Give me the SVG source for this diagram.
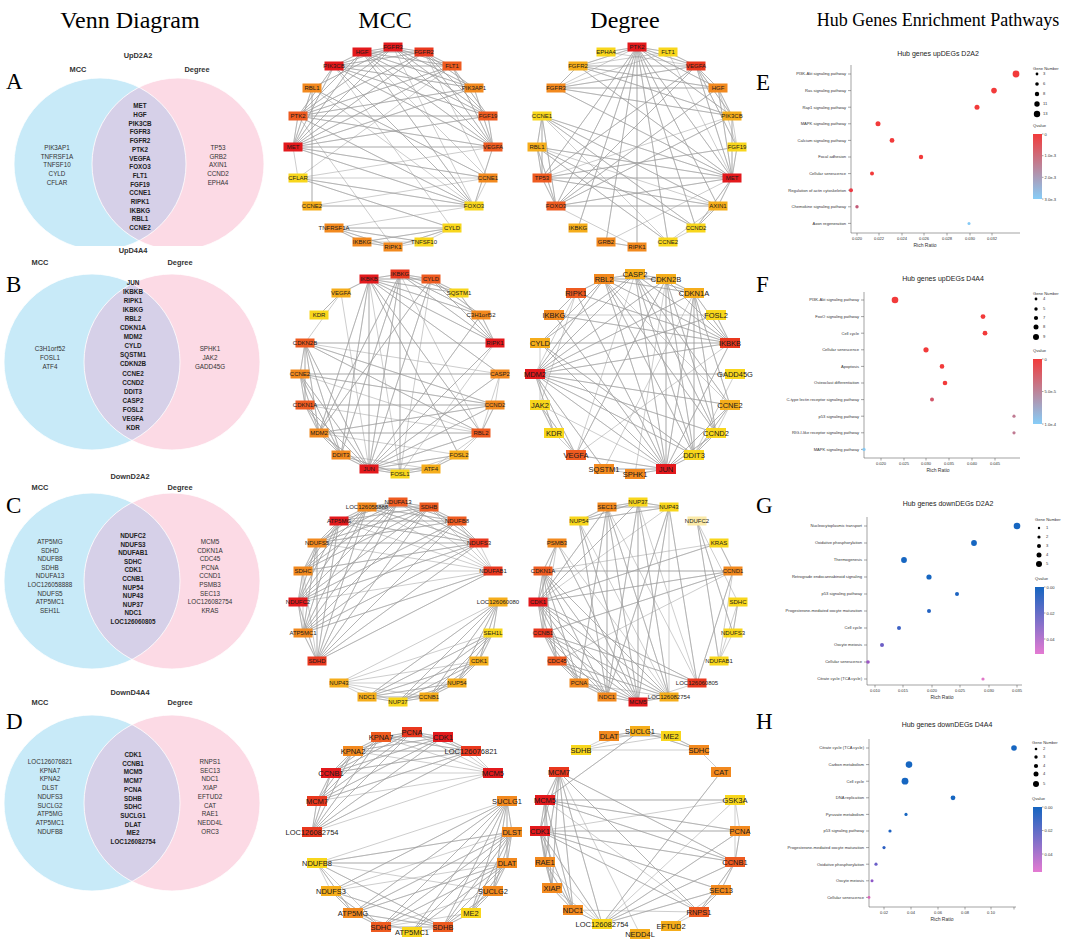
<svg xmlns="http://www.w3.org/2000/svg" width="1065" height="942" viewBox="0 0 1065 942">
<style>
.ttl{font-family:"Liberation Serif",serif;font-size:24px;fill:#000;text-anchor:middle}
.ttl2{font-family:"Liberation Serif",serif;font-size:18px;fill:#000;text-anchor:middle}
.lt{font-family:"Liberation Serif",serif;font-size:23px;fill:#000}
.vt{font-family:"Liberation Sans",Arial,sans-serif;font-size:6.3px;fill:#333;text-anchor:middle}
.vb{font-weight:bold;fill:#222}
.vh{font-family:"Liberation Sans",Arial,sans-serif;font-size:7.4px;font-weight:bold;fill:#333;text-anchor:middle}
.vl{fill:#c8eaf8}.vr{fill:#fcdae5}.vo{fill:#d6d0e8}.vs{fill:none;stroke:#fff;stroke-width:0.8}
.edges path{fill:none;stroke:#9a9a9a;stroke-width:0.5;stroke-linejoin:round}
.n text{font-family:"Liberation Sans",Arial,sans-serif;font-size:6px;fill:#1a1a1a;text-anchor:middle}
.nb text{font-size:7.5px}
.c1 rect{fill:#e3191c}.c2 rect{fill:#e9381e}.c3 rect{fill:#ee5b20}.c4 rect{fill:#f2891e}.c5 rect{fill:#f5ad1b}.c6 rect{fill:#f8d61c}
.pt{font-family:"Liberation Sans",Arial,sans-serif;font-size:7px;fill:#222;text-anchor:middle}
.pl{font-family:"Liberation Sans",Arial,sans-serif;font-size:4.1px;fill:#333;text-anchor:end}
.px{font-family:"Liberation Sans",Arial,sans-serif;font-size:4.1px;fill:#333;text-anchor:middle}
.pr{font-family:"Liberation Sans",Arial,sans-serif;font-size:5px;fill:#333;text-anchor:middle}
.pg{font-family:"Liberation Sans",Arial,sans-serif;font-size:4.1px;fill:#333}
.ax{fill:none;stroke:#666;stroke-width:0.6}
.rd{fill:#f23a3a}.bl{fill:#1666c1}
</style>
<defs>
<linearGradient id="gRB" x1="0" y1="0" x2="0" y2="1"><stop offset="0" stop-color="#f23b3b"/><stop offset="1" stop-color="#86cdf8"/></linearGradient>
<linearGradient id="gBP" x1="0" y1="0" x2="0" y2="1"><stop offset="0" stop-color="#1565c0"/><stop offset="1" stop-color="#e47ad2"/></linearGradient>
<clipPath id="cA"><rect x="0" y="60" width="265" height="186"/></clipPath>
<clipPath id="lA"><circle cx="100" cy="164" r="86"/></clipPath>
<clipPath id="lB"><circle cx="92" cy="362" r="88"/></clipPath>
<clipPath id="lC"><circle cx="92" cy="581" r="88"/></clipPath>
<clipPath id="lD"><circle cx="92" cy="803" r="88"/></clipPath>
</defs>
<rect width="1065" height="942" fill="#fff"/>

<g id="headings">
<text class="ttl" x="130" y="28">Venn Diagram</text>
<text class="ttl" x="385" y="28">MCC</text>
<text class="ttl" x="625" y="28">Degree</text>
<text class="ttl2" x="938" y="26">Hub Genes Enrichment Pathways</text>
<text class="lt" x="6" y="89">A</text>
<text class="lt" x="6" y="292">B</text>
<text class="lt" x="6" y="513">C</text>
<text class="lt" x="6" y="729">D</text>
<text class="lt" x="756" y="90">E</text>
<text class="lt" x="756" y="292">F</text>
<text class="lt" x="756" y="513">G</text>
<text class="lt" x="756" y="729">H</text>
</g>

<!-- Venn diagrams -->
<g id="vennA">
<g clip-path="url(#cA)">
<circle class="vl" cx="100" cy="164" r="86"/><circle class="vr" cx="178" cy="164" r="86"/>
<circle class="vo" cx="178" cy="164" r="86" clip-path="url(#lA)"/>
<circle class="vs" cx="100" cy="164" r="86"/><circle class="vs" cx="178" cy="164" r="86"/>
</g>
<text class="vh" x="138" y="58">UpD2A2</text>
<text class="vh" x="78" y="72">MCC</text>
<text class="vh" x="197" y="72">Degree</text>
<text class="vt" y="150"><tspan x="57">PIK3AP1</tspan><tspan x="57" dy="8.7">TNFRSF1A</tspan><tspan x="57" dy="8.7">TNFSF10</tspan><tspan x="57" dy="8.7">CYLD</tspan><tspan x="57" dy="8.7">CFLAR</tspan></text>
<text class="vt vb" y="108.3"><tspan x="140">MET</tspan><tspan x="140" dy="8.7">HGF</tspan><tspan x="140" dy="8.7">PIK3CB</tspan><tspan x="140" dy="8.7">FGFR3</tspan><tspan x="140" dy="8.7">FGFR2</tspan><tspan x="140" dy="8.7">PTK2</tspan><tspan x="140" dy="8.7">VEGFA</tspan><tspan x="140" dy="8.7">FOXO3</tspan><tspan x="140" dy="8.7">FLT1</tspan><tspan x="140" dy="8.7">FGF19</tspan><tspan x="140" dy="8.7">CCNE1</tspan><tspan x="140" dy="8.7">RIPK1</tspan><tspan x="140" dy="8.7">IKBKG</tspan><tspan x="140" dy="8.7">RBL1</tspan><tspan x="140" dy="8.7">CCNE2</tspan></text>
<text class="vt" y="150"><tspan x="218">TP53</tspan><tspan x="218" dy="8.7">GRB2</tspan><tspan x="218" dy="8.7">AXIN1</tspan><tspan x="218" dy="8.7">CCND2</tspan><tspan x="218" dy="8.7">EPHA4</tspan></text>
</g>

<g id="vennB">
<circle class="vl" cx="92" cy="362" r="88"/><circle class="vr" cx="172" cy="362" r="88"/>
<circle class="vo" cx="172" cy="362" r="88" clip-path="url(#lB)"/>
<circle class="vs" cx="92" cy="362" r="88"/><circle class="vs" cx="172" cy="362" r="88"/>
<text class="vh" x="133" y="253">UpD4A4</text>
<text class="vh" x="40" y="265">MCC</text>
<text class="vh" x="180" y="265">Degree</text>
<text class="vt" y="351"><tspan x="50">C3H1orf52</tspan><tspan x="50" dy="9">FOSL1</tspan><tspan x="50" dy="9">ATF4</tspan></text>
<text class="vt vb" y="285"><tspan x="133">JUN</tspan><tspan x="133" dy="9.05">IKBKB</tspan><tspan x="133" dy="9.05">RIPK1</tspan><tspan x="133" dy="9.05">IKBKG</tspan><tspan x="133" dy="9.05">RBL2</tspan><tspan x="133" dy="9.05">CDKN1A</tspan><tspan x="133" dy="9.05">MDM2</tspan><tspan x="133" dy="9.05">CYLD</tspan><tspan x="133" dy="9.05">SQSTM1</tspan><tspan x="133" dy="9.05">CDKN2B</tspan><tspan x="133" dy="9.05">CCNE2</tspan><tspan x="133" dy="9.05">CCND2</tspan><tspan x="133" dy="9.05">DDIT3</tspan><tspan x="133" dy="9.05">CASP2</tspan><tspan x="133" dy="9.05">FOSL2</tspan><tspan x="133" dy="9.05">VEGFA</tspan><tspan x="133" dy="9.05">KDR</tspan></text>
<text class="vt" y="351"><tspan x="210">SPHK1</tspan><tspan x="210" dy="9">JAK2</tspan><tspan x="210" dy="9">GADD45G</tspan></text>
</g>

<g id="vennC">
<circle class="vl" cx="92" cy="581" r="88"/><circle class="vr" cx="172" cy="581" r="88"/>
<circle class="vo" cx="172" cy="581" r="88" clip-path="url(#lC)"/>
<circle class="vs" cx="92" cy="581" r="88"/><circle class="vs" cx="172" cy="581" r="88"/>
<text class="vh" x="130" y="479">DownD2A2</text>
<text class="vh" x="40" y="490">MCC</text>
<text class="vh" x="180" y="490">Degree</text>
<text class="vt" y="544"><tspan x="50">ATP5MG</tspan><tspan x="50" dy="8.6">SDHD</tspan><tspan x="50" dy="8.6">NDUFB8</tspan><tspan x="50" dy="8.6">SDHB</tspan><tspan x="50" dy="8.6">NDUFA13</tspan><tspan x="50" dy="8.6">LOC126058888</tspan><tspan x="50" dy="8.6">NDUFS5</tspan><tspan x="50" dy="8.6">ATP5MC1</tspan><tspan x="50" dy="8.6">SEH1L</tspan></text>
<text class="vt vb" y="538"><tspan x="133">NDUFC2</tspan><tspan x="133" dy="8.6">NDUFS3</tspan><tspan x="133" dy="8.6">NDUFAB1</tspan><tspan x="133" dy="8.6">SDHC</tspan><tspan x="133" dy="8.6">CDK1</tspan><tspan x="133" dy="8.6">CCNB1</tspan><tspan x="133" dy="8.6">NUP54</tspan><tspan x="133" dy="8.6">NUP43</tspan><tspan x="133" dy="8.6">NUP37</tspan><tspan x="133" dy="8.6">NDC1</tspan><tspan x="133" dy="8.6">LOC126060805</tspan></text>
<text class="vt" y="544"><tspan x="210">MCM5</tspan><tspan x="210" dy="8.6">CDKN1A</tspan><tspan x="210" dy="8.6">CDC45</tspan><tspan x="210" dy="8.6">PCNA</tspan><tspan x="210" dy="8.6">CCND1</tspan><tspan x="210" dy="8.6">PSMB3</tspan><tspan x="210" dy="8.6">SEC13</tspan><tspan x="210" dy="8.6">LOC126082754</tspan><tspan x="210" dy="8.6">KRAS</tspan></text>
</g>

<g id="vennD">
<circle class="vl" cx="92" cy="803" r="88"/><circle class="vr" cx="172" cy="803" r="88"/>
<circle class="vo" cx="172" cy="803" r="88" clip-path="url(#lD)"/>
<circle class="vs" cx="92" cy="803" r="88"/><circle class="vs" cx="172" cy="803" r="88"/>
<text class="vh" x="130" y="695">DownD4A4</text>
<text class="vh" x="40" y="705">MCC</text>
<text class="vh" x="180" y="705">Degree</text>
<text class="vt" y="764"><tspan x="50">LOC126076821</tspan><tspan x="50" dy="8.7">KPNA7</tspan><tspan x="50" dy="8.7">KPNA2</tspan><tspan x="50" dy="8.7">DLST</tspan><tspan x="50" dy="8.7">NDUFS3</tspan><tspan x="50" dy="8.7">SUCLG2</tspan><tspan x="50" dy="8.7">ATP5MG</tspan><tspan x="50" dy="8.7">ATP5MC1</tspan><tspan x="50" dy="8.7">NDUFB8</tspan></text>
<text class="vt vb" y="757"><tspan x="133">CDK1</tspan><tspan x="133" dy="8.7">CCNB1</tspan><tspan x="133" dy="8.7">MCM5</tspan><tspan x="133" dy="8.7">MCM7</tspan><tspan x="133" dy="8.7">PCNA</tspan><tspan x="133" dy="8.7">SDHB</tspan><tspan x="133" dy="8.7">SDHC</tspan><tspan x="133" dy="8.7">SUCLG1</tspan><tspan x="133" dy="8.7">DLAT</tspan><tspan x="133" dy="8.7">ME2</tspan><tspan x="133" dy="8.7">LOC126082754</tspan></text>
<text class="vt" y="764"><tspan x="210">RNPS1</tspan><tspan x="210" dy="8.7">SEC13</tspan><tspan x="210" dy="8.7">NDC1</tspan><tspan x="210" dy="8.7">XIAP</tspan><tspan x="210" dy="8.7">EFTUD2</tspan><tspan x="210" dy="8.7">CAT</tspan><tspan x="210" dy="8.7">RAE1</tspan><tspan x="210" dy="8.7">NEDD4L</tspan><tspan x="210" dy="8.7">ORC3</tspan></text>
</g>

<!-- Connectors -->
<g id="connectors" class="edges">
<g id="edges-mccA" transform="translate(393 147)"><path d="M-100 0 100 0 -100 0 95 -31 -100 0 81 -59 -100 0 59 -81 -100 0 31 -95 -100 0 0 -100 -100 0 -31 -95 -100 0 -59 -81 -100 0 -95 -31 -100 0 -81 -59 -100 0 81 59 -100 0 95 31 -100 0 -95 31M-31 -95 100 0 -31 -95 95 -31 -31 -95 81 -59 -31 -95 59 -81 -31 -95 31 -95 -31 -95 0 -100 -31 -95 -59 -81 -31 -95 -95 -31 -31 -95 81 59 -31 -95 95 31M-59 -81 100 0 -59 -81 95 -31 -59 -81 81 -59 -59 -81 59 -81 -59 -81 31 -95 -59 -81 0 -100 -59 -81 -95 -31 -59 -81 81 59 -59 -81 59 81M0 -100 100 0 0 -100 95 -31 0 -100 81 -59 0 -100 59 -81 0 -100 31 -95 0 -100 -95 -31 0 -100 -81 -59 0 -100 81 59M31 -95 100 0 31 -95 95 -31 31 -95 81 -59 31 -95 59 -81 31 -95 -95 -31 31 -95 95 31M59 -81 100 0 59 -81 95 -31 59 -81 -95 -31 59 -81 -95 31M100 0 95 -31 100 0 81 -59 100 0 -95 -31 100 0 81 59 100 0 -95 31M-95 -31 95 -31 -95 -31 81 -59 -95 -31 81 59 -95 -31 0 100M-81 -59 -81 59 -81 -59 95 31 -81 -59 81 59M-81 59 81 59 -81 59 95 31M-95 31 81 59 -95 31 59 81 -95 31 95 31M-59 81 59 81 -59 81 0 100 -59 81 -31 95 -59 81 31 95 -59 81 81 59M-31 95 59 81 -31 95 0 100 -31 95 31 95M0 100 59 81 0 100 31 95M59 81 31 95M81 59 95 31"/></g>
<g id="edges-degA" transform="translate(637 147)"><path d="M0 -100 -81 59 0 -100 -95 31 0 -100 -59 81 0 -100 59 81 0 -100 95 31 0 -100 81 59 0 -100 31 95 0 -100 0 100 0 -100 -31 95 0 -100 81 -59 0 -100 95 -31 0 -100 59 -81 0 -100 31 -95 0 -100 -59 -81 0 -100 -31 -95 0 -100 -81 -59M-95 31 95 31 -95 31 -95 -31 -95 31 -100 0 -95 31 -81 59 -95 31 81 59 -95 31 100 0 -95 31 59 -81 -95 31 95 -31M95 31 59 -81 95 31 81 -59 95 31 95 -31 95 31 100 0 95 31 81 59 95 31 59 81 95 31 -81 -59 95 31 -59 -81 95 31 -95 -31 95 31 -100 0 95 31 -81 59 95 31 31 -95M-95 -31 81 59 -95 -31 59 81 -95 -31 -100 0 -95 -31 -81 59 -95 -31 31 95M-100 0 31 95 -100 0 59 81 -100 0 -81 59 -100 0 81 59M59 -81 81 -59 59 -81 95 -31 59 -81 100 0 59 -81 31 -95 59 -81 -81 -59 59 -81 -59 -81 59 -81 -31 -95M-59 -81 81 -59 -59 -81 95 -31 -59 -81 -81 -59 -59 -81 31 -95M-81 -59 81 -59 -81 -59 95 -31 -81 -59 31 -95M-81 59 81 59 -81 59 95 -31 -81 59 81 -59 -81 59 59 -81 -81 59 0 100M81 -59 95 -31 81 -59 100 0M95 -31 100 0M81 59 59 81 81 59 31 95M59 81 31 95M-31 95 0 100 -31 95 95 31"/></g>
<g id="edges-mccB" transform="translate(400 374)"><path d="M-31 -95 -31 95 -31 -95 -81 59 -31 -95 -59 81 -31 -95 95 -31 -31 -95 59 81 -31 -95 81 59 -31 -95 100 0 -31 -95 -59 -81 -31 -95 81 -59 -31 -95 59 -81 -31 -95 0 -100 -31 -95 31 -95 -31 -95 0 100M0 -100 95 -31 0 -100 81 -59 0 -100 59 -81 0 -100 31 -95 0 -100 -31 95 0 -100 0 100 0 -100 -59 81 0 -100 -81 59 0 -100 81 59M31 -95 95 -31 31 -95 81 -59 31 -95 59 -81 31 -95 -31 95 31 -95 -81 59 31 -95 0 100M95 -31 -95 -31 95 -31 -31 95 95 -31 81 -59 95 -31 59 -81 95 -31 0 100M-95 -31 -100 0 -95 -31 -95 31 -95 -31 -81 59 -95 -31 -59 81 -95 -31 -31 95 -95 -31 95 31 -95 -31 81 59 -95 -31 100 0M-100 0 -95 31 -100 0 -81 59 -100 0 -59 81 -100 0 -31 95 -100 0 95 31 -100 0 100 0 -100 0 81 59M-95 31 -81 59 -95 31 -59 81 -95 31 -31 95 -95 31 95 31 -95 31 81 59M-81 59 81 59 -81 59 -59 81 -81 59 -31 95 -81 59 95 31 -81 59 59 81M-59 81 -31 95 -59 81 0 100 -59 81 31 95M-31 95 0 100 -31 95 31 95 -31 95 59 81 -31 95 81 59 -31 95 95 31 -31 95 100 0 -31 95 81 -59 -31 95 -59 -81M0 100 31 95 0 100 59 81M31 95 59 81 31 95 81 59M59 81 81 59M81 59 95 31 81 59 100 0M95 31 100 0M-59 -81 -81 -59 -59 -81 -95 -31"/></g>
<g id="edges-degB" transform="translate(635 374)"><path d="M-100 0 95 -31 -100 0 100 0 -100 0 95 31 -100 0 81 59 -100 0 59 81 -100 0 31 95 -100 0 -31 -95 -100 0 0 -100 -100 0 31 -95 -100 0 59 -81 -100 0 81 -59 -100 0 -31 95 -100 0 -59 81 -100 0 -81 59 -100 0 -59 -81M-95 -31 95 -31 -95 -31 31 95 -95 -31 59 81 -95 -31 -31 -95 -95 -31 0 -100 -95 -31 -95 31M95 -31 0 -100 95 -31 31 -95 95 -31 59 -81 95 -31 -31 -95 95 -31 -59 -81 95 -31 -81 -59 95 -31 81 -59 95 -31 31 95 95 -31 -59 81M31 95 -31 -95 31 95 0 -100 31 95 31 -95 31 95 59 -81 31 95 95 31 31 95 81 59 31 95 59 81 31 95 -81 -59 31 95 -59 -81 31 95 -59 81 31 95 -31 95 31 95 0 100 31 95 -95 31M0 -100 -31 -95 0 -100 31 -95 0 -100 59 -81 0 -100 59 81 0 -100 81 59 0 -100 95 31 0 -100 -59 81M-31 -95 31 -95 -31 -95 59 -81 -31 -95 -59 -81 -31 -95 59 81 -31 -95 81 59 -31 -95 95 31M31 -95 59 -81 31 -95 59 81 31 -95 81 59 31 -95 -59 81 31 -95 0 100M59 -81 81 59 59 -81 95 31 59 -81 59 81 59 -81 -31 95M-81 -59 -59 -81 -81 -59 81 -59M-95 31 -81 59 -95 31 -59 81 -95 31 -59 -81M-81 59 -59 81M59 81 81 59 59 81 95 31 59 81 100 0M81 59 95 31M-31 95 0 100"/></g>
<g id="edges-mccC" transform="translate(398 602)"><path d="M-100 0 -81 59 -100 0 -95 31 -100 0 -95 -31 -100 0 -81 -59 -100 0 -59 -81 -100 0 -31 -95 -100 0 0 -100 -100 0 31 -95 -100 0 59 -81 -100 0 81 -59 -100 0 95 -31M-81 -59 -81 59 -81 -59 -95 31 -81 -59 -95 -31 -81 -59 -59 -81 -81 -59 -31 -95 -81 -59 0 -100 -81 -59 31 -95 -81 -59 59 -81 -81 -59 81 -59 -81 -59 95 -31M-59 -81 -81 59 -59 -81 -95 31 -59 -81 -95 -31 -59 -81 -31 -95 -59 -81 0 -100 -59 -81 31 -95 -59 -81 59 -81 -59 -81 81 -59 -59 -81 95 -31M-31 -95 -81 59 -31 -95 -95 31 -31 -95 -95 -31 -31 -95 0 -100 -31 -95 31 -95 -31 -95 59 -81 -31 -95 81 -59 -31 -95 95 -31M0 -100 -81 59 0 -100 -95 31 0 -100 -95 -31 0 -100 31 -95 0 -100 59 -81 0 -100 81 -59 0 -100 95 -31M31 -95 -81 59 31 -95 -95 31 31 -95 -95 -31 31 -95 59 -81 31 -95 81 -59 31 -95 95 -31M59 -81 -81 59 59 -81 -95 31 59 -81 81 -59 59 -81 95 -31M81 -59 -81 59 81 -59 -95 31 81 -59 -95 -31 81 -59 95 -31M95 -31 -81 59 95 -31 -95 31 95 -31 -95 -31M-81 59 -95 31 -81 59 -95 -31M-95 31 -95 -31M100 0 95 31 100 0 81 59 100 0 59 81 100 0 31 95 100 0 0 100 100 0 -31 95 100 0 -59 81M95 31 81 59 95 31 59 81 95 31 31 95 95 31 0 100 95 31 -31 95 95 31 -59 81M81 59 59 81 81 59 31 95 81 59 0 100 81 59 -31 95 81 59 -59 81M59 81 31 95 59 81 0 100 59 81 -31 95 59 81 -59 81M31 95 0 100 31 95 -31 95 31 95 -59 81M0 100 -31 95 0 100 -59 81M-31 95 -59 81"/></g>
<g id="edges-degC" transform="translate(638 602)"><path d="M-100 0 -95 -31 -100 0 -95 31 -100 0 -81 59 -100 0 -59 81 -100 0 -31 95 -100 0 0 100 -100 0 31 95 -100 0 59 81 -100 0 95 -31 -100 0 81 -59 -100 0 -81 -59 -100 0 -31 -95 -100 0 0 -100 -100 0 31 -95M-95 31 -95 -31 -95 31 -81 59 -95 31 -59 81 -95 31 -31 95 -95 31 0 100 -95 31 31 95 -95 31 59 81 -95 31 95 -31 -95 31 -81 -59M-95 -31 95 -31 -95 -31 -81 59 -95 -31 -59 81 -95 -31 -31 95 -95 -31 0 100 -95 -31 31 95 -95 -31 -81 -59 -95 -31 81 -59M-81 59 -59 81 -81 59 -31 95 -81 59 0 100 -81 59 31 95 -81 59 95 -31M-59 81 -31 95 -59 81 0 100 -59 81 31 95M0 100 -31 95 0 100 31 95 0 100 59 81M-31 -95 0 -100 -31 -95 31 -95 -31 -95 -59 -81 -31 -95 -31 95 -31 -95 0 100 -31 -95 31 95 -31 -95 -59 81 -31 -95 59 81M0 -100 31 -95 0 -100 -59 -81 0 -100 -31 95 0 -100 0 100 0 -100 31 95 0 -100 59 81M31 -95 -59 -81 31 -95 -31 95 31 -95 0 100 31 -95 59 81 31 -95 31 95M-59 -81 -31 95 -59 -81 0 100 -59 -81 31 95M59 -81 95 31 59 -81 81 59 59 -81 100 0M100 0 95 31 100 0 81 59M95 31 81 59M95 -31 81 -59 95 -31 59 81 95 -31 81 59M-81 -59 0 100 -81 -59 31 95"/></g>
<g id="edges-mccD" transform="translate(412 832)"><path d="M-100 0 -95 -31 -100 0 -81 -59 -100 0 -59 -81 -100 0 -31 -95 -100 0 0 -100 -100 0 31 -95 -100 0 59 -81 -100 0 81 -59M-95 -31 -81 -59 -95 -31 -59 -81 -95 -31 -31 -95 -95 -31 0 -100 -95 -31 31 -95 -95 -31 59 -81 -95 -31 81 -59M-81 -59 -59 -81 -81 -59 -31 -95 -81 -59 0 -100 -81 -59 31 -95 -81 -59 59 -81 -81 -59 81 -59M-59 -81 -31 -95 -59 -81 0 -100 -59 -81 31 -95 -59 -81 59 -81 -59 -81 81 -59M-31 -95 0 -100 -31 -95 31 -95 -31 -95 59 -81 -31 -95 81 -59M0 -100 31 -95 0 -100 59 -81 0 -100 81 -59M31 -95 59 -81 31 -95 81 -59M59 -81 81 -59M95 -31 100 0 95 -31 95 31 95 -31 81 59 95 -31 59 81 95 -31 31 95 95 -31 0 100 95 -31 -31 95 95 -31 -59 81 95 -31 -81 59 95 -31 -95 31M100 0 95 31 100 0 81 59 100 0 59 81 100 0 31 95 100 0 0 100 100 0 -31 95 100 0 -59 81 100 0 -81 59M95 31 81 59 95 31 59 81 95 31 31 95 95 31 0 100 95 31 -31 95 95 31 -59 81 95 31 -81 59M81 59 59 81 81 59 31 95 81 59 -31 95M31 95 -31 95 31 95 -59 81 31 95 -81 59 31 95 -95 31 31 95 59 81 31 95 0 100M-31 95 -59 81 -31 95 -81 59 -31 95 -95 31M-59 81 -81 59 -59 81 -95 31 -59 81 0 100M-81 59 -95 31M59 81 -31 95M-95 31 100 0 -95 31 95 31 -95 31 81 59"/></g>
<g id="edges-degD" transform="translate(640 831)"><path d="M-100 0 100 0 -100 0 95 31 -100 0 81 59 -100 0 59 81 -100 0 -95 -31 -100 0 -81 -59 -100 0 -95 31 -100 0 -88 57 -100 0 -67 79 -100 0 -38 93 -100 0 95 -31M-95 -31 -81 -59 -95 -31 -95 31 -95 -31 -88 57 -95 -31 -67 79 -95 -31 100 0 -95 -31 95 31 -95 -31 95 -31 -95 -31 59 81M-81 -59 -95 31 -81 -59 -88 57 -81 -59 -67 79 -81 -59 95 31 -81 -59 59 81 -81 -59 -38 93 -81 -59 0 103M-95 31 -88 57 -95 31 -67 79 -95 31 -38 93M-88 57 -67 79 -88 57 -38 93M-67 79 -38 93 -67 79 59 81M-38 93 100 0 -38 93 95 31 -38 93 81 59 -38 93 81 -59 -38 93 95 -31M59 81 95 31 59 81 81 59 59 81 31 95M95 31 100 0 95 31 81 59 95 31 95 -31M100 0 95 -31M0 -100 -95 -31 0 -100 -31 -95 0 -100 31 -95 0 -100 59 -81 0 -100 -59 -81M-31 -95 31 -95 -31 -95 -59 -81M31 -95 59 -81 31 -95 -59 -81M-59 -81 59 -81M59 -81 81 -59M81 59 31 95"/></g>
</g>

<!-- MCC A nodes -->
<g id="nodes-mccA" transform="translate(393 147)">
<g id="mccA-VEGFA" class="n c3" transform="translate(100 0)"><rect x="-9.5" y="-4.5" width="19" height="9"/><text y="2.1">VEGFA</text></g>
<g id="mccA-CCNE1" class="n c4" transform="translate(95 31)"><rect x="-9.5" y="-4.5" width="19" height="9"/><text y="2.1">CCNE1</text></g>
<g id="mccA-FOXO3" class="n c6" transform="translate(81 59)"><rect x="-9.5" y="-4.5" width="19" height="9"/><text y="2.1">FOXO3</text></g>
<g id="mccA-CYLD" class="n c6" transform="translate(59 81)"><rect x="-9.5" y="-4.5" width="19" height="9"/><text y="2.1">CYLD</text></g>
<g id="mccA-TNFSF10" class="n c6" transform="translate(31 95)"><rect x="-9.5" y="-4.5" width="19" height="9"/><text y="2.1">TNFSF10</text></g>
<g id="mccA-RIPK1" class="n c4" transform="translate(0 100)"><rect x="-9.5" y="-4.5" width="19" height="9"/><text y="2.1">RIPK1</text></g>
<g id="mccA-IKBKG" class="n c4" transform="translate(-31 95)"><rect x="-9.5" y="-4.5" width="19" height="9"/><text y="2.1">IKBKG</text></g>
<g id="mccA-TNFRSF1A" class="n c4" transform="translate(-59 81)"><rect x="-9.5" y="-4.5" width="19" height="9"/><text y="2.1">TNFRSF1A</text></g>
<g id="mccA-CCNE2" class="n c5" transform="translate(-81 59)"><rect x="-9.5" y="-4.5" width="19" height="9"/><text y="2.1">CCNE2</text></g>
<g id="mccA-CFLAR" class="n c6" transform="translate(-95 31)"><rect x="-9.5" y="-4.5" width="19" height="9"/><text y="2.1">CFLAR</text></g>
<g id="mccA-MET" class="n c1" transform="translate(-100 0)"><rect x="-9.5" y="-4.5" width="19" height="9"/><text y="2.1">MET</text></g>
<g id="mccA-PTK2" class="n c3" transform="translate(-95 -31)"><rect x="-9.5" y="-4.5" width="19" height="9"/><text y="2.1">PTK2</text></g>
<g id="mccA-RBL1" class="n c4" transform="translate(-81 -59)"><rect x="-9.5" y="-4.5" width="19" height="9"/><text y="2.1">RBL1</text></g>
<g id="mccA-PIK3CB" class="n c1" transform="translate(-59 -81)"><rect x="-9.5" y="-4.5" width="19" height="9"/><text y="2.1">PIK3CB</text></g>
<g id="mccA-HGF" class="n c1" transform="translate(-31 -95)"><rect x="-9.5" y="-4.5" width="19" height="9"/><text y="2.1">HGF</text></g>
<g id="mccA-FGFR3" class="n c1" transform="translate(0 -100)"><rect x="-9.5" y="-4.5" width="19" height="9"/><text y="2.1">FGFR3</text></g>
<g id="mccA-FGFR2" class="n c2" transform="translate(31 -95)"><rect x="-9.5" y="-4.5" width="19" height="9"/><text y="2.1">FGFR2</text></g>
<g id="mccA-FLT1" class="n c3" transform="translate(59 -81)"><rect x="-9.5" y="-4.5" width="19" height="9"/><text y="2.1">FLT1</text></g>
<g id="mccA-PIK3AP1" class="n c4" transform="translate(81 -59)"><rect x="-9.5" y="-4.5" width="19" height="9"/><text y="2.1">PIK3AP1</text></g>
<g id="mccA-FGF19" class="n c3" transform="translate(95 -31)"><rect x="-9.5" y="-4.5" width="19" height="9"/><text y="2.1">FGF19</text></g>
</g>

<!-- Degree A nodes -->
<g id="nodes-degA" transform="translate(637 147)">
<g id="degA-FGF19" class="n c6" transform="translate(100 0)"><rect x="-9.5" y="-4.5" width="19" height="9"/><text y="2.1">FGF19</text></g>
<g id="degA-MET" class="n c1" transform="translate(95 31)"><rect x="-9.5" y="-4.5" width="19" height="9"/><text y="2.1">MET</text></g>
<g id="degA-AXIN1" class="n c5" transform="translate(81 59)"><rect x="-9.5" y="-4.5" width="19" height="9"/><text y="2.1">AXIN1</text></g>
<g id="degA-CCND2" class="n c6" transform="translate(59 81)"><rect x="-9.5" y="-4.5" width="19" height="9"/><text y="2.1">CCND2</text></g>
<g id="degA-CCNE2" class="n c6" transform="translate(31 95)"><rect x="-9.5" y="-4.5" width="19" height="9"/><text y="2.1">CCNE2</text></g>
<g id="degA-RIPK1" class="n c4" transform="translate(0 100)"><rect x="-9.5" y="-4.5" width="19" height="9"/><text y="2.1">RIPK1</text></g>
<g id="degA-GRB2" class="n c4" transform="translate(-31 95)"><rect x="-9.5" y="-4.5" width="19" height="9"/><text y="2.1">GRB2</text></g>
<g id="degA-IKBKG" class="n c5" transform="translate(-59 81)"><rect x="-9.5" y="-4.5" width="19" height="9"/><text y="2.1">IKBKG</text></g>
<g id="degA-FOXO3" class="n c3" transform="translate(-81 59)"><rect x="-9.5" y="-4.5" width="19" height="9"/><text y="2.1">FOXO3</text></g>
<g id="degA-TP53" class="n c3" transform="translate(-95 31)"><rect x="-9.5" y="-4.5" width="19" height="9"/><text y="2.1">TP53</text></g>
<g id="degA-RBL1" class="n c5" transform="translate(-100 0)"><rect x="-9.5" y="-4.5" width="19" height="9"/><text y="2.1">RBL1</text></g>
<g id="degA-CCNE1" class="n c6" transform="translate(-95 -31)"><rect x="-9.5" y="-4.5" width="19" height="9"/><text y="2.1">CCNE1</text></g>
<g id="degA-FGFR3" class="n c4" transform="translate(-81 -59)"><rect x="-9.5" y="-4.5" width="19" height="9"/><text y="2.1">FGFR3</text></g>
<g id="degA-FGFR2" class="n c5" transform="translate(-59 -81)"><rect x="-9.5" y="-4.5" width="19" height="9"/><text y="2.1">FGFR2</text></g>
<g id="degA-EPHA4" class="n c6" transform="translate(-31 -95)"><rect x="-9.5" y="-4.5" width="19" height="9"/><text y="2.1">EPHA4</text></g>
<g id="degA-PTK2" class="n c1" transform="translate(0 -100)"><rect x="-9.5" y="-4.5" width="19" height="9"/><text y="2.1">PTK2</text></g>
<g id="degA-FLT1" class="n c6" transform="translate(31 -95)"><rect x="-9.5" y="-4.5" width="19" height="9"/><text y="2.1">FLT1</text></g>
<g id="degA-VEGFA" class="n c2" transform="translate(59 -81)"><rect x="-9.5" y="-4.5" width="19" height="9"/><text y="2.1">VEGFA</text></g>
<g id="degA-HGF" class="n c4" transform="translate(81 -59)"><rect x="-9.5" y="-4.5" width="19" height="9"/><text y="2.1">HGF</text></g>
<g id="degA-PIK3CB" class="n c5" transform="translate(95 -31)"><rect x="-9.5" y="-4.5" width="19" height="9"/><text y="2.1">PIK3CB</text></g>
</g>

<!-- MCC B nodes -->
<g id="nodes-mccB" transform="translate(400 374)">
<g id="mccB-CASP2" class="n c4" transform="translate(100 0)"><rect x="-9.5" y="-4.5" width="19" height="9"/><text y="2.1">CASP2</text></g>
<g id="mccB-CCND2" class="n c4" transform="translate(95 31)"><rect x="-9.5" y="-4.5" width="19" height="9"/><text y="2.1">CCND2</text></g>
<g id="mccB-RBL2" class="n c3" transform="translate(81 59)"><rect x="-9.5" y="-4.5" width="19" height="9"/><text y="2.1">RBL2</text></g>
<g id="mccB-FOSL2" class="n c5" transform="translate(59 81)"><rect x="-9.5" y="-4.5" width="19" height="9"/><text y="2.1">FOSL2</text></g>
<g id="mccB-ATF4" class="n c5" transform="translate(31 95)"><rect x="-9.5" y="-4.5" width="19" height="9"/><text y="2.1">ATF4</text></g>
<g id="mccB-FOSL1" class="n c6" transform="translate(0 100)"><rect x="-9.5" y="-4.5" width="19" height="9"/><text y="2.1">FOSL1</text></g>
<g id="mccB-JUN" class="n c1" transform="translate(-31 95)"><rect x="-9.5" y="-4.5" width="19" height="9"/><text y="2.1">JUN</text></g>
<g id="mccB-DDIT3" class="n c4" transform="translate(-59 81)"><rect x="-9.5" y="-4.5" width="19" height="9"/><text y="2.1">DDIT3</text></g>
<g id="mccB-MDM2" class="n c4" transform="translate(-81 59)"><rect x="-9.5" y="-4.5" width="19" height="9"/><text y="2.1">MDM2</text></g>
<g id="mccB-CDKN1A" class="n c3" transform="translate(-95 31)"><rect x="-9.5" y="-4.5" width="19" height="9"/><text y="2.1">CDKN1A</text></g>
<g id="mccB-CCNE2" class="n c4" transform="translate(-100 0)"><rect x="-9.5" y="-4.5" width="19" height="9"/><text y="2.1">CCNE2</text></g>
<g id="mccB-CDKN2B" class="n c3" transform="translate(-95 -31)"><rect x="-9.5" y="-4.5" width="19" height="9"/><text y="2.1">CDKN2B</text></g>
<g id="mccB-KDR" class="n c6" transform="translate(-81 -59)"><rect x="-9.5" y="-4.5" width="19" height="9"/><text y="2.1">KDR</text></g>
<g id="mccB-VEGFA" class="n c5" transform="translate(-59 -81)"><rect x="-9.5" y="-4.5" width="19" height="9"/><text y="2.1">VEGFA</text></g>
<g id="mccB-IKBKB" class="n c1" transform="translate(-31 -95)"><rect x="-9.5" y="-4.5" width="19" height="9"/><text y="2.1">IKBKB</text></g>
<g id="mccB-IKBKG" class="n c2" transform="translate(0 -100)"><rect x="-9.5" y="-4.5" width="19" height="9"/><text y="2.1">IKBKG</text></g>
<g id="mccB-CYLD" class="n c3" transform="translate(31 -95)"><rect x="-9.5" y="-4.5" width="19" height="9"/><text y="2.1">CYLD</text></g>
<g id="mccB-SQSTM1" class="n c6" transform="translate(59 -81)"><rect x="-9.5" y="-4.5" width="19" height="9"/><text y="2.1">SQSTM1</text></g>
<g id="mccB-C3H1orf52" class="n c4" transform="translate(81 -59)"><rect x="-9.5" y="-4.5" width="19" height="9"/><text y="2.1">C3H1orf52</text></g>
<g id="mccB-RIPK1" class="n c1" transform="translate(95 -31)"><rect x="-9.5" y="-4.5" width="19" height="9"/><text y="2.1">RIPK1</text></g>
</g>

<!-- Degree B nodes -->
<g id="nodes-degB" transform="translate(635 374)">
<g id="degB-GADD45G" class="n nb c6" transform="translate(100 0)"><rect x="-10" y="-5" width="20" height="10"/><text y="2.7">GADD45G</text></g>
<g id="degB-CCNE2" class="n nb c5" transform="translate(95 31)"><rect x="-10" y="-5" width="20" height="10"/><text y="2.7">CCNE2</text></g>
<g id="degB-CCND2" class="n nb c6" transform="translate(81 59)"><rect x="-10" y="-5" width="20" height="10"/><text y="2.7">CCND2</text></g>
<g id="degB-DDIT3" class="n nb c6" transform="translate(59 81)"><rect x="-10" y="-5" width="20" height="10"/><text y="2.7">DDIT3</text></g>
<g id="degB-JUN" class="n nb c1" transform="translate(31 95)"><rect x="-10" y="-5" width="20" height="10"/><text y="2.7">JUN</text></g>
<g id="degB-SPHK1" class="n nb c4" transform="translate(0 100)"><rect x="-10" y="-5" width="20" height="10"/><text y="2.7">SPHK1</text></g>
<g id="degB-SQSTM1" class="n nb c4" transform="translate(-31 95)"><rect x="-10" y="-5" width="20" height="10"/><text y="2.7">SQSTM1</text></g>
<g id="degB-VEGFA" class="n nb c3" transform="translate(-59 81)"><rect x="-10" y="-5" width="20" height="10"/><text y="2.7">VEGFA</text></g>
<g id="degB-KDR" class="n nb c6" transform="translate(-81 59)"><rect x="-10" y="-5" width="20" height="10"/><text y="2.7">KDR</text></g>
<g id="degB-JAK2" class="n nb c6" transform="translate(-95 31)"><rect x="-10" y="-5" width="20" height="10"/><text y="2.7">JAK2</text></g>
<g id="degB-MDM2" class="n nb c1" transform="translate(-100 0)"><rect x="-10" y="-5" width="20" height="10"/><text y="2.7">MDM2</text></g>
<g id="degB-CYLD" class="n nb c5" transform="translate(-95 -31)"><rect x="-10" y="-5" width="20" height="10"/><text y="2.7">CYLD</text></g>
<g id="degB-IKBKG" class="n nb c4" transform="translate(-81 -59)"><rect x="-10" y="-5" width="20" height="10"/><text y="2.7">IKBKG</text></g>
<g id="degB-RIPK1" class="n nb c3" transform="translate(-59 -81)"><rect x="-10" y="-5" width="20" height="10"/><text y="2.7">RIPK1</text></g>
<g id="degB-RBL2" class="n nb c4" transform="translate(-31 -95)"><rect x="-10" y="-5" width="20" height="10"/><text y="2.7">RBL2</text></g>
<g id="degB-CASP2" class="n nb c5" transform="translate(0 -100)"><rect x="-10" y="-5" width="20" height="10"/><text y="2.7">CASP2</text></g>
<g id="degB-CDKN2B" class="n nb c5" transform="translate(31 -95)"><rect x="-10" y="-5" width="20" height="10"/><text y="2.7">CDKN2B</text></g>
<g id="degB-CDKN1A" class="n nb c5" transform="translate(59 -81)"><rect x="-10" y="-5" width="20" height="10"/><text y="2.7">CDKN1A</text></g>
<g id="degB-FOSL2" class="n nb c6" transform="translate(81 -59)"><rect x="-10" y="-5" width="20" height="10"/><text y="2.7">FOSL2</text></g>
<g id="degB-IKBKB" class="n nb c2" transform="translate(95 -31)"><rect x="-10" y="-5" width="20" height="10"/><text y="2.7">IKBKB</text></g>
</g>

<!-- MCC C nodes -->
<g id="nodes-mccC" transform="translate(398 602)">
<g id="mccC-LOC126060080" class="n c5" transform="translate(100 0)"><rect x="-9.5" y="-4.5" width="19" height="9"/><text y="2.1">LOC126060080</text></g>
<g id="mccC-SEH1L" class="n c6" transform="translate(95 31)"><rect x="-9.5" y="-4.5" width="19" height="9"/><text y="2.1">SEH1L</text></g>
<g id="mccC-CDK1" class="n c5" transform="translate(81 59)"><rect x="-9.5" y="-4.5" width="19" height="9"/><text y="2.1">CDK1</text></g>
<g id="mccC-NUP54" class="n c5" transform="translate(59 81)"><rect x="-9.5" y="-4.5" width="19" height="9"/><text y="2.1">NUP54</text></g>
<g id="mccC-CCNB1" class="n c5" transform="translate(31 95)"><rect x="-9.5" y="-4.5" width="19" height="9"/><text y="2.1">CCNB1</text></g>
<g id="mccC-NUP37" class="n c6" transform="translate(0 100)"><rect x="-9.5" y="-4.5" width="19" height="9"/><text y="2.1">NUP37</text></g>
<g id="mccC-NDC1" class="n c5" transform="translate(-31 95)"><rect x="-9.5" y="-4.5" width="19" height="9"/><text y="2.1">NDC1</text></g>
<g id="mccC-NUP43" class="n c5" transform="translate(-59 81)"><rect x="-9.5" y="-4.5" width="19" height="9"/><text y="2.1">NUP43</text></g>
<g id="mccC-SDHD" class="n c2" transform="translate(-81 59)"><rect x="-9.5" y="-4.5" width="19" height="9"/><text y="2.1">SDHD</text></g>
<g id="mccC-ATP5MC1" class="n c4" transform="translate(-95 31)"><rect x="-9.5" y="-4.5" width="19" height="9"/><text y="2.1">ATP5MC1</text></g>
<g id="mccC-NDUFC2" class="n c1" transform="translate(-100 0)"><rect x="-9.5" y="-4.5" width="19" height="9"/><text y="2.1">NDUFC2</text></g>
<g id="mccC-SDHC" class="n c4" transform="translate(-95 -31)"><rect x="-9.5" y="-4.5" width="19" height="9"/><text y="2.1">SDHC</text></g>
<g id="mccC-NDUFS5" class="n c4" transform="translate(-81 -59)"><rect x="-9.5" y="-4.5" width="19" height="9"/><text y="2.1">NDUFS5</text></g>
<g id="mccC-ATP5MG" class="n c1" transform="translate(-59 -81)"><rect x="-9.5" y="-4.5" width="19" height="9"/><text y="2.1">ATP5MG</text></g>
<g id="mccC-LOC126058888" class="n c4" transform="translate(-31 -95)"><rect x="-9.5" y="-4.5" width="19" height="9"/><text y="2.1">LOC126058888</text></g>
<g id="mccC-NDUFA13" class="n c3" transform="translate(0 -100)"><rect x="-9.5" y="-4.5" width="19" height="9"/><text y="2.1">NDUFA13</text></g>
<g id="mccC-SDHB" class="n c3" transform="translate(31 -95)"><rect x="-9.5" y="-4.5" width="19" height="9"/><text y="2.1">SDHB</text></g>
<g id="mccC-NDUFB8" class="n c3" transform="translate(59 -81)"><rect x="-9.5" y="-4.5" width="19" height="9"/><text y="2.1">NDUFB8</text></g>
<g id="mccC-NDUFS3" class="n c2" transform="translate(81 -59)"><rect x="-9.5" y="-4.5" width="19" height="9"/><text y="2.1">NDUFS3</text></g>
<g id="mccC-NDUFAB1" class="n c2" transform="translate(95 -31)"><rect x="-9.5" y="-4.5" width="19" height="9"/><text y="2.1">NDUFAB1</text></g>
</g>

<!-- Degree C nodes -->
<g id="nodes-degC" transform="translate(638 602)">
<g id="degC-SDHC" class="n c6" transform="translate(100 0)"><rect x="-9.5" y="-4.5" width="19" height="9"/><text y="2.1">SDHC</text></g>
<g id="degC-NDUFS3" class="n c6" transform="translate(95 31)"><rect x="-9.5" y="-4.5" width="19" height="9"/><text y="2.1">NDUFS3</text></g>
<g id="degC-NDUFAB1" class="n c6" transform="translate(81 59)"><rect x="-9.5" y="-4.5" width="19" height="9"/><text y="2.1">NDUFAB1</text></g>
<g id="degC-LOC126060805" class="n c2" transform="translate(59 81)"><rect x="-9.5" y="-4.5" width="19" height="9"/><text y="2.1">LOC126060805</text></g>
<g id="degC-LOC126082754" class="n c5" transform="translate(31 95)"><rect x="-9.5" y="-4.5" width="19" height="9"/><text y="2.1">LOC126082754</text></g>
<g id="degC-MCM5" class="n c1" transform="translate(0 100)"><rect x="-9.5" y="-4.5" width="19" height="9"/><text y="2.1">MCM5</text></g>
<g id="degC-NDC1" class="n c4" transform="translate(-31 95)"><rect x="-9.5" y="-4.5" width="19" height="9"/><text y="2.1">NDC1</text></g>
<g id="degC-PCNA" class="n c4" transform="translate(-59 81)"><rect x="-9.5" y="-4.5" width="19" height="9"/><text y="2.1">PCNA</text></g>
<g id="degC-CDC45" class="n c3" transform="translate(-81 59)"><rect x="-9.5" y="-4.5" width="19" height="9"/><text y="2.1">CDC45</text></g>
<g id="degC-CCNB1" class="n c2" transform="translate(-95 31)"><rect x="-9.5" y="-4.5" width="19" height="9"/><text y="2.1">CCNB1</text></g>
<g id="degC-CDK1" class="n c1" transform="translate(-100 0)"><rect x="-9.5" y="-4.5" width="19" height="9"/><text y="2.1">CDK1</text></g>
<g id="degC-CDKN1A" class="n c3" transform="translate(-95 -31)"><rect x="-9.5" y="-4.5" width="19" height="9"/><text y="2.1">CDKN1A</text></g>
<g id="degC-PSMB3" class="n c4" transform="translate(-81 -59)"><rect x="-9.5" y="-4.5" width="19" height="9"/><text y="2.1">PSMB3</text></g>
<g id="degC-NUP54" class="n c6" transform="translate(-59 -81)"><rect x="-9.5" y="-4.5" width="19" height="9"/><text y="2.1">NUP54</text></g>
<g id="degC-SEC13" class="n c4" transform="translate(-31 -95)"><rect x="-9.5" y="-4.5" width="19" height="9"/><text y="2.1">SEC13</text></g>
<g id="degC-NUP37" class="n c6" transform="translate(0 -100)"><rect x="-9.5" y="-4.5" width="19" height="9"/><text y="2.1">NUP37</text></g>
<g id="degC-NUP43" class="n c6" transform="translate(31 -95)"><rect x="-9.5" y="-4.5" width="19" height="9"/><text y="2.1">NUP43</text></g>
<g id="degC-NDUFC2" class="n" transform="translate(59 -81)"><rect x="-9.5" y="-4.5" width="19" height="9" fill="#fbeaa8"/><text y="2.1">NDUFC2</text></g>
<g id="degC-KRAS" class="n c6" transform="translate(81 -59)"><rect x="-9.5" y="-4.5" width="19" height="9"/><text y="2.1">KRAS</text></g>
<g id="degC-CCND1" class="n c4" transform="translate(95 -31)"><rect x="-9.5" y="-4.5" width="19" height="9"/><text y="2.1">CCND1</text></g>
</g>

<!-- MCC D nodes -->
<g id="nodes-mccD" transform="translate(412 832)">
<g id="mccD-DLST" class="n nb c4" transform="translate(100 0)"><rect x="-10" y="-5" width="20" height="10"/><text y="2.7">DLST</text></g>
<g id="mccD-DLAT" class="n nb c4" transform="translate(95 31)"><rect x="-10" y="-5" width="20" height="10"/><text y="2.7">DLAT</text></g>
<g id="mccD-SUCLG2" class="n nb c4" transform="translate(81 59)"><rect x="-10" y="-5" width="20" height="10"/><text y="2.7">SUCLG2</text></g>
<g id="mccD-ME2" class="n nb c6" transform="translate(59 81)"><rect x="-10" y="-5" width="20" height="10"/><text y="2.7">ME2</text></g>
<g id="mccD-SDHB" class="n nb c3" transform="translate(31 95)"><rect x="-10" y="-5" width="20" height="10"/><text y="2.7">SDHB</text></g>
<g id="mccD-ATP5MC1" class="n nb c6" transform="translate(0 100)"><rect x="-10" y="-5" width="20" height="10"/><text y="2.7">ATP5MC1</text></g>
<g id="mccD-SDHC" class="n nb c3" transform="translate(-31 95)"><rect x="-10" y="-5" width="20" height="10"/><text y="2.7">SDHC</text></g>
<g id="mccD-ATP5MG" class="n nb c4" transform="translate(-59 81)"><rect x="-10" y="-5" width="20" height="10"/><text y="2.7">ATP5MG</text></g>
<g id="mccD-NDUFS3" class="n nb c5" transform="translate(-81 59)"><rect x="-10" y="-5" width="20" height="10"/><text y="2.7">NDUFS3</text></g>
<g id="mccD-NDUFB8" class="n nb c6" transform="translate(-95 31)"><rect x="-10" y="-5" width="20" height="10"/><text y="2.7">NDUFB8</text></g>
<g id="mccD-LOC126082754" class="n nb c2" transform="translate(-100 0)"><rect x="-10" y="-5" width="20" height="10"/><text y="2.7">LOC126082754</text></g>
<g id="mccD-MCM7" class="n nb c2" transform="translate(-95 -31)"><rect x="-10" y="-5" width="20" height="10"/><text y="2.7">MCM7</text></g>
<g id="mccD-CCNB1" class="n nb c1" transform="translate(-81 -59)"><rect x="-10" y="-5" width="20" height="10"/><text y="2.7">CCNB1</text></g>
<g id="mccD-KPNA2" class="n nb c4" transform="translate(-59 -81)"><rect x="-10" y="-5" width="20" height="10"/><text y="2.7">KPNA2</text></g>
<g id="mccD-KPNA7" class="n nb c3" transform="translate(-31 -95)"><rect x="-10" y="-5" width="20" height="10"/><text y="2.7">KPNA7</text></g>
<g id="mccD-PCNA" class="n nb c2" transform="translate(0 -100)"><rect x="-10" y="-5" width="20" height="10"/><text y="2.7">PCNA</text></g>
<g id="mccD-CDK1" class="n nb c1" transform="translate(31 -95)"><rect x="-10" y="-5" width="20" height="10"/><text y="2.7">CDK1</text></g>
<g id="mccD-LOC126076821" class="n nb c2" transform="translate(59 -81)"><rect x="-10" y="-5" width="20" height="10"/><text y="2.7">LOC126076821</text></g>
<g id="mccD-MCM5" class="n nb c1" transform="translate(81 -59)"><rect x="-10" y="-5" width="20" height="10"/><text y="2.7">MCM5</text></g>
<g id="mccD-SUCLG1" class="n nb c4" transform="translate(95 -31)"><rect x="-10" y="-5" width="20" height="10"/><text y="2.7">SUCLG1</text></g>
</g>

<!-- Degree D nodes -->
<g id="nodes-degD" transform="translate(640 831)">
<g id="degD-PCNA" class="n nb c4" transform="translate(100 0)"><rect x="-10" y="-5" width="20" height="10"/><text y="2.7">PCNA</text></g>
<g id="degD-CCNB1" class="n nb c3" transform="translate(95 31)"><rect x="-10" y="-5" width="20" height="10"/><text y="2.7">CCNB1</text></g>
<g id="degD-SEC13" class="n nb c4" transform="translate(81 59)"><rect x="-10" y="-5" width="20" height="10"/><text y="2.7">SEC13</text></g>
<g id="degD-RNPS1" class="n nb c3" transform="translate(59 81)"><rect x="-10" y="-5" width="20" height="10"/><text y="2.7">RNPS1</text></g>
<g id="degD-EFTUD2" class="n nb c5" transform="translate(31 95)"><rect x="-10" y="-5" width="20" height="10"/><text y="2.7">EFTUD2</text></g>
<g id="degD-NEDD4L" class="n nb c5" transform="translate(0 103)"><rect x="-10" y="-5" width="20" height="10"/><text y="2.7">NEDD4L</text></g>
<g id="degD-LOC126082754" class="n nb c6" transform="translate(-38 93)"><rect x="-10" y="-5" width="20" height="10"/><text y="2.7">LOC126082754</text></g>
<g id="degD-NDC1" class="n nb c4" transform="translate(-67 79)"><rect x="-10" y="-5" width="20" height="10"/><text y="2.7">NDC1</text></g>
<g id="degD-XIAP" class="n nb c4" transform="translate(-88 57)"><rect x="-10" y="-5" width="20" height="10"/><text y="2.7">XIAP</text></g>
<g id="degD-RAE1" class="n nb c4" transform="translate(-95 31)"><rect x="-10" y="-5" width="20" height="10"/><text y="2.7">RAE1</text></g>
<g id="degD-CDK1" class="n nb c1" transform="translate(-100 0)"><rect x="-10" y="-5" width="20" height="10"/><text y="2.7">CDK1</text></g>
<g id="degD-MCM5" class="n nb c1" transform="translate(-95 -31)"><rect x="-10" y="-5" width="20" height="10"/><text y="2.7">MCM5</text></g>
<g id="degD-MCM7" class="n nb c2" transform="translate(-81 -59)"><rect x="-10" y="-5" width="20" height="10"/><text y="2.7">MCM7</text></g>
<g id="degD-SDHB" class="n nb c6" transform="translate(-59 -81)"><rect x="-10" y="-5" width="20" height="10"/><text y="2.7">SDHB</text></g>
<g id="degD-DLAT" class="n nb c4" transform="translate(-31 -95)"><rect x="-10" y="-5" width="20" height="10"/><text y="2.7">DLAT</text></g>
<g id="degD-SUCLG1" class="n nb c5" transform="translate(0 -100)"><rect x="-10" y="-5" width="20" height="10"/><text y="2.7">SUCLG1</text></g>
<g id="degD-ME2" class="n nb c6" transform="translate(31 -95)"><rect x="-10" y="-5" width="20" height="10"/><text y="2.7">ME2</text></g>
<g id="degD-SDHC" class="n nb c4" transform="translate(59 -81)"><rect x="-10" y="-5" width="20" height="10"/><text y="2.7">SDHC</text></g>
<g id="degD-CAT" class="n nb c4" transform="translate(81 -59)"><rect x="-10" y="-5" width="20" height="10"/><text y="2.7">CAT</text></g>
<g id="degD-GSK3A" class="n nb c6" transform="translate(95 -31)"><rect x="-10" y="-5" width="20" height="10"/><text y="2.7">GSK3A</text></g>
</g>

<!-- Plot E -->
<g id="plotE">
<text class="pt" x="938" y="56">Hub genes upDEGs D2A2</text>
<path class="ax" d="M851 65V233H1020M848 74H851M848 90.6H851M848 107.2H851M848 123.8H851M848 140.4H851M848 157H851M848 173.6H851M848 190.2H851M848 206.8H851M848 223.4H851M857 233v2.5M879 233v2.5M902 233v2.5M924 233v2.5M947 233v2.5M970 233v2.5M992 233v2.5"/>
<text class="pl" x="846" y="75.4">PI3K-Akt signaling pathway</text>
<text class="pl" x="846" y="92">Ras signaling pathway</text>
<text class="pl" x="846" y="108.6">Rap1 signaling pathway</text>
<text class="pl" x="846" y="125.2">MAPK signaling pathway</text>
<text class="pl" x="846" y="141.8">Calcium signaling pathway</text>
<text class="pl" x="846" y="158.4">Focal adhesion</text>
<text class="pl" x="846" y="175">Cellular senescence</text>
<text class="pl" x="846" y="191.6">Regulation of actin cytoskeleton</text>
<text class="pl" x="846" y="208.2">Chemokine signaling pathway</text>
<text class="pl" x="846" y="224.8">Axon regeneration</text>
<text class="px" x="857" y="239.5">0.020</text><text class="px" x="879" y="239.5">0.022</text><text class="px" x="902" y="239.5">0.024</text><text class="px" x="924" y="239.5">0.026</text><text class="px" x="947" y="239.5">0.028</text><text class="px" x="970" y="239.5">0.030</text><text class="px" x="992" y="239.5">0.032</text>
<text class="pr" x="925" y="246.5">Rich Ratio</text>
<circle class="rd" cx="1016" cy="74" r="3.4"/>
<circle class="rd" cx="994" cy="90.6" r="2.8"/>
<circle class="rd" cx="977" cy="107.2" r="2.5"/>
<circle class="rd" cx="878" cy="123.8" r="2.5"/>
<circle class="rd" cx="892" cy="140.4" r="2.4"/>
<circle class="rd" cx="921" cy="157" r="2.2"/>
<circle class="rd" cx="872" cy="173.6" r="2"/>
<circle fill="#ec3a44" cx="851" cy="190.2" r="2"/>
<circle fill="#c25b78" cx="857" cy="206.8" r="1.7"/>
<circle fill="#84c9f5" cx="969" cy="223.4" r="1.5"/>
<text class="pg" x="1033" y="69.5">Gene Number</text>
<circle cx="1037" cy="74" r="1.4"/><circle cx="1037" cy="84" r="1.8"/><circle cx="1037" cy="94" r="2.2"/><circle cx="1037" cy="104" r="2.7"/><circle cx="1037" cy="114" r="3.2"/>
<text class="pg" x="1043" y="75.4">3</text><text class="pg" x="1043" y="85.4">6</text><text class="pg" x="1043" y="95.4">8</text><text class="pg" x="1043" y="105.4">11</text><text class="pg" x="1043" y="115.4">13</text>
<text class="pg" x="1033" y="126.5">Qvalue</text>
<rect x="1033" y="134" width="9" height="65" fill="url(#gRB)"/>
<path class="ax" d="M1042 134h1.5M1042 155.7h1.5M1042 177.3h1.5M1042 199h1.5"/>
<text class="pg" x="1044.5" y="135.5">0</text><text class="pg" x="1044.5" y="157.2">1.0e-3</text><text class="pg" x="1044.5" y="178.8">2.0e-3</text><text class="pg" x="1044.5" y="200.5">3.0e-3</text>
</g>

<!-- Plot F -->
<g id="plotF">
<text class="pt" x="943" y="281">Hub genes upDEGs D4A4</text>
<path class="ax" d="M864 292V458H1020M861 300H864M861 316.6H864M861 333.2H864M861 349.8H864M861 366.4H864M861 383H864M861 399.6H864M861 416.2H864M861 432.8H864M861 449.4H864M881 458v2.5M904 458v2.5M926 458v2.5M949 458v2.5M972 458v2.5M995 458v2.5"/>
<text class="pl" x="859" y="301.4">PI3K-Akt signaling pathway</text>
<text class="pl" x="859" y="318">FoxO signaling pathway</text>
<text class="pl" x="859" y="334.6">Cell cycle</text>
<text class="pl" x="859" y="351.2">Cellular senescence</text>
<text class="pl" x="859" y="367.8">Apoptosis</text>
<text class="pl" x="859" y="384.4">Osteoclast differentiation</text>
<text class="pl" x="859" y="401">C-type lectin receptor signaling pathway</text>
<text class="pl" x="859" y="417.6">p53 signaling pathway</text>
<text class="pl" x="859" y="434.2">RIG-I-like receptor signaling pathway</text>
<text class="pl" x="859" y="450.8">MAPK signaling pathway</text>
<text class="px" x="881" y="464.5">0.020</text><text class="px" x="904" y="464.5">0.025</text><text class="px" x="926" y="464.5">0.030</text><text class="px" x="949" y="464.5">0.035</text><text class="px" x="972" y="464.5">0.040</text><text class="px" x="995" y="464.5">0.045</text>
<text class="pr" x="938" y="472">Rich Ratio</text>
<circle class="rd" cx="895" cy="300" r="3.3"/>
<circle class="rd" cx="983" cy="316.6" r="2.4"/>
<circle class="rd" cx="985" cy="333.2" r="2.4"/>
<circle class="rd" cx="926" cy="349.8" r="2.6"/>
<circle class="rd" cx="942" cy="366.4" r="2.3"/>
<circle class="rd" cx="945" cy="383" r="2.3"/>
<circle fill="#d25569" cx="932" cy="399.6" r="2"/>
<circle fill="#c07a92" cx="1014" cy="416.2" r="1.6"/>
<circle fill="#c07a92" cx="1014" cy="432.8" r="1.6"/>
<circle fill="#86c8f2" cx="864" cy="449.4" r="1.6"/>
<text class="pg" x="1033" y="294.5">Gene Number</text>
<circle cx="1036" cy="299" r="1.4"/><circle cx="1036" cy="309" r="1.7"/><circle cx="1036" cy="318" r="2.1"/><circle cx="1036" cy="327" r="2.5"/><circle cx="1036" cy="337" r="3"/>
<text class="pg" x="1043" y="300.4">4</text><text class="pg" x="1043" y="310.4">5</text><text class="pg" x="1043" y="319.4">7</text><text class="pg" x="1043" y="328.4">8</text><text class="pg" x="1043" y="338.4">9</text>
<text class="pg" x="1033" y="351.5">Qvalue</text>
<rect x="1033" y="359" width="9" height="65" fill="url(#gRB)"/>
<path class="ax" d="M1042 359h1.5M1042 391.5h1.5M1042 424h1.5"/>
<text class="pg" x="1044.5" y="360.5">0</text><text class="pg" x="1044.5" y="393">5.0e-5</text><text class="pg" x="1044.5" y="425.5">1.0e-4</text>
</g>

<!-- Plot G -->
<g id="plotG">
<text class="pt" x="948" y="506">Hub genes downDEGs D2A2</text>
<path class="ax" d="M867 517V685H1022M864 526H867M864 543H867M864 560H867M864 577H867M864 594H867M864 611H867M864 628H867M864 645H867M864 662H867M864 679H867M875 685v2.5M903 685v2.5M932 685v2.5M960 685v2.5M989 685v2.5M1017 685v2.5"/>
<text class="pl" x="862" y="527.4">Nucleocytoplasmic transport</text>
<text class="pl" x="862" y="544.4">Oxidative phosphorylation</text>
<text class="pl" x="862" y="561.4">Thermogenesis</text>
<text class="pl" x="862" y="578.4">Retrograde endocannabinoid signaling</text>
<text class="pl" x="862" y="595.4">p53 signaling pathway</text>
<text class="pl" x="862" y="612.4">Progesterone-mediated oocyte maturation</text>
<text class="pl" x="862" y="629.4">Cell cycle</text>
<text class="pl" x="862" y="646.4">Oocyte meiosis</text>
<text class="pl" x="862" y="663.4">Cellular senescence</text>
<text class="pl" x="862" y="680.4">Citrate cycle (TCA cycle)</text>
<text class="px" x="875" y="691.5">0.010</text><text class="px" x="903" y="691.5">0.015</text><text class="px" x="932" y="691.5">0.020</text><text class="px" x="960" y="691.5">0.025</text><text class="px" x="989" y="691.5">0.030</text><text class="px" x="1017" y="691.5">0.035</text>
<text class="pr" x="942" y="699">Rich Ratio</text>
<circle class="bl" cx="1017" cy="526" r="3.3"/>
<circle class="bl" cx="974" cy="543" r="2.9"/>
<circle class="bl" cx="904" cy="560" r="2.9"/>
<circle class="bl" cx="929" cy="577" r="2.6"/>
<circle fill="#1c64c1" cx="957" cy="594" r="2"/>
<circle fill="#2362c2" cx="929" cy="611" r="2"/>
<circle fill="#3d61c4" cx="899" cy="628" r="2"/>
<circle fill="#6c5ec6" cx="882" cy="645" r="2"/>
<circle fill="#9b55c5" cx="868" cy="662" r="1.8"/>
<circle fill="#e077c8" cx="983" cy="679" r="1.6"/>
<text class="pg" x="1035" y="520.5">Gene Number</text>
<circle cx="1039" cy="528" r="1.2"/><circle cx="1039" cy="537" r="1.6"/><circle cx="1039" cy="546" r="2"/><circle cx="1039" cy="555" r="2.5"/><circle cx="1039" cy="564" r="3"/>
<text class="pg" x="1046" y="529.4">1</text><text class="pg" x="1046" y="538.4">2</text><text class="pg" x="1046" y="547.4">3</text><text class="pg" x="1046" y="556.4">4</text><text class="pg" x="1046" y="565.4">5</text>
<text class="pg" x="1035" y="579.5">Qvalue</text>
<rect x="1035" y="587" width="9" height="67" fill="url(#gBP)"/>
<path class="ax" d="M1044 587h1.5M1044 613h1.5M1044 639h1.5"/>
<text class="pg" x="1046.5" y="588.5">0.00</text><text class="pg" x="1046.5" y="614.5">0.02</text><text class="pg" x="1046.5" y="640.5">0.04</text>
</g>

<!-- Plot H -->
<g id="plotH">
<text class="pt" x="947" y="727">Hub genes downDEGs D4A4</text>
<path class="ax" d="M869 739V907H1016M866 748H869M866 764.6H869M866 781.2H869M866 797.8H869M866 814.4H869M866 831H869M866 847.6H869M866 864.2H869M866 880.8H869M866 897.4H869M884 907v2.5M911 907v2.5M938 907v2.5M965 907v2.5M991 907v2.5M1014 907v2.5"/>
<text class="pl" x="864" y="749.4">Citrate cycle (TCA cycle)</text>
<text class="pl" x="864" y="766">Carbon metabolism</text>
<text class="pl" x="864" y="782.6">Cell cycle</text>
<text class="pl" x="864" y="799.2">DNA replication</text>
<text class="pl" x="864" y="815.8">Pyruvate metabolism</text>
<text class="pl" x="864" y="832.4">p53 signaling pathway</text>
<text class="pl" x="864" y="849">Progesterone-mediated oocyte maturation</text>
<text class="pl" x="864" y="865.6">Oxidative phosphorylation</text>
<text class="pl" x="864" y="882.2">Oocyte meiosis</text>
<text class="pl" x="864" y="898.8">Cellular senescence</text>
<text class="px" x="884" y="913.5">0.02</text><text class="px" x="911" y="913.5">0.04</text><text class="px" x="938" y="913.5">0.06</text><text class="px" x="965" y="913.5">0.08</text><text class="px" x="991" y="913.5">0.10</text>
<text class="pr" x="942" y="921">Rich Ratio</text>
<circle class="bl" cx="1014" cy="748" r="2.8"/>
<circle class="bl" cx="909" cy="764.6" r="3.3"/>
<circle class="bl" cx="905" cy="781.2" r="3.4"/>
<circle class="bl" cx="953" cy="797.8" r="2.4"/>
<circle class="bl" cx="906" cy="814.4" r="1.6"/>
<circle fill="#1e63c2" cx="890" cy="831" r="1.6"/>
<circle fill="#2d5fc2" cx="884" cy="847.6" r="1.6"/>
<circle fill="#6a5ec8" cx="876" cy="864.2" r="1.6"/>
<circle fill="#8e58c8" cx="872" cy="880.8" r="1.5"/>
<circle fill="#d865b8" cx="869" cy="897.4" r="1.4"/>
<text class="pg" x="1032" y="743.5">Gene Number</text>
<circle cx="1036" cy="749" r="1.3"/><circle cx="1036" cy="757" r="1.7"/><circle cx="1036" cy="766" r="2.1"/><circle cx="1036" cy="774" r="2.5"/><circle cx="1036" cy="784" r="3"/>
<text class="pg" x="1043" y="750.4">2</text><text class="pg" x="1043" y="758.4">3</text><text class="pg" x="1043" y="767.4">4</text><text class="pg" x="1043" y="775.4">4</text><text class="pg" x="1043" y="785.4">5</text>
<text class="pg" x="1032" y="799.5">Qvalue</text>
<rect x="1033" y="807" width="9" height="65" fill="url(#gBP)"/>
<path class="ax" d="M1042 807h1.5M1042 830.5h1.5M1042 854h1.5"/>
<text class="pg" x="1044.5" y="808.5">0.00</text><text class="pg" x="1044.5" y="832">0.02</text><text class="pg" x="1044.5" y="855.5">0.04</text>
</g>
</svg>
